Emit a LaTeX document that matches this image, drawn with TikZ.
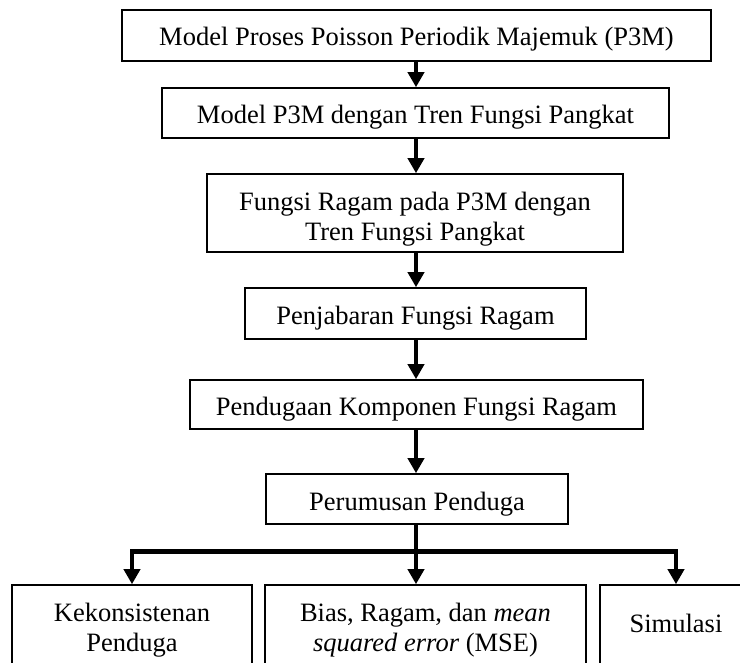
\documentclass[tikz,border=0pt]{standalone}
\usepackage{fontspec}
\setmainfont{Liberation Serif}
\usetikzlibrary{arrows.meta}
\begin{document}
\begin{tikzpicture}[x=1pt,y=-1pt,
  box/.style={draw, line width=1.6pt, inner sep=0pt, align=center,
    text height=28pt, text depth=6pt,
    font=\fontsize{26.5}{30}\selectfont},
  flow/.style={line width=4.6pt, -{Triangle[width=16pt,length=15pt]}},
  trunk/.style={line width=4.6pt}]
\clip (0,0) rectangle (740,663);
\useasboundingbox (0,0) rectangle (740,663);
\node[box, minimum width=589pt, minimum height=51pt, text height=26.5pt] (m1) at (416.5,35.5) {Model Proses Poisson Periodik Majemuk (P3M)};
\node[box, minimum width=507pt, minimum height=50pt, text height=26.5pt] (m2) at (415.5,113) {Model P3M dengan Tren Fungsi Pangkat};
\node[box, minimum width=416pt, minimum height=78pt, text height=61pt] (m3) at (415,213) {Fungsi Ragam pada P3M dengan\\Tren Fungsi Pangkat};
\node[box, minimum width=341pt, minimum height=51pt] (m4) at (415.5,313.5) {Penjabaran Fungsi Ragam};
\node[box, minimum width=453pt, minimum height=49pt] (m5) at (416.5,404.5) {Pendugaan Komponen Fungsi Ragam};
\node[box, minimum width=302pt, minimum height=50pt] (m6) at (417,499) {Perumusan Penduga};
\node[box, minimum width=240pt, minimum height=90pt, text height=49.5pt] (b1) at (132,630) {Kekonsistenan\\Penduga};
\node[box, minimum width=321pt, minimum height=90pt, text height=49.5pt] (b2) at (425.5,630) {Bias, Ragam, dan \textit{mean}\\\textit{squared error} (MSE)};
\node[box, minimum width=152pt, minimum height=90pt, text height=20pt, text depth=16pt] (b3) at (676,630) {Simulasi};
\coordinate (j) at (416,551.5);
\draw[flow] (m1.south -| j) -- (m2.north -| j);
\draw[flow] (m2.south -| j) -- (m3.north -| j);
\draw[flow] (m3.south -| j) -- (m4.north -| j);
\draw[flow] (m4.south -| j) -- (m5.north -| j);
\draw[flow] (m5.south -| j) -- (m6.north -| j);
\draw[trunk] (m6.south -| j) -- (j);
\draw[flow] (j) -| (b1.north);
\draw[flow] (j) -| (b3.north);
\draw[flow] (j) -- (j |- b2.north);
\end{tikzpicture}
\end{document}
